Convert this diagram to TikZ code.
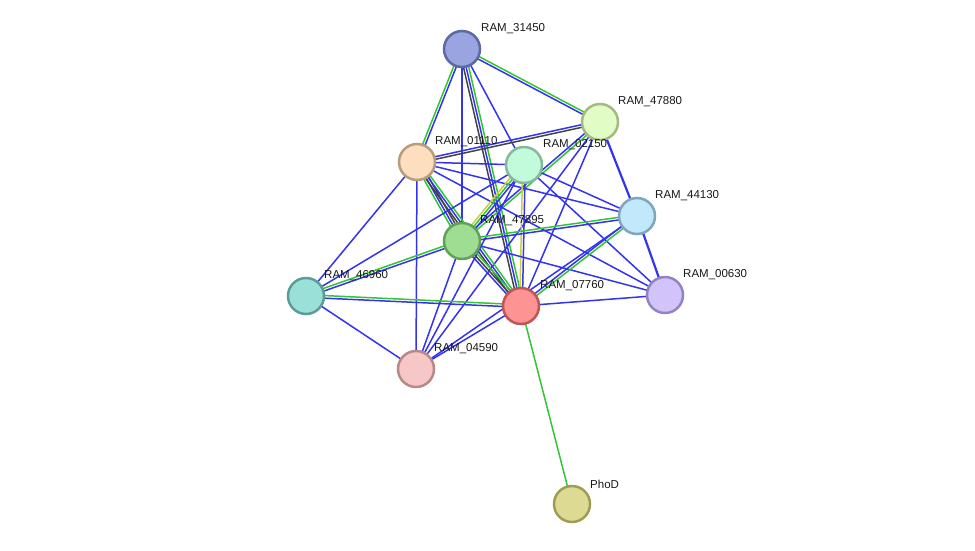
\documentclass[tikz,border=0pt]{standalone}
\usepackage{fontspec}
\setmainfont{Liberation Sans}
\usetikzlibrary{calc,backgrounds}
\definecolor{eblue}{HTML}{3333F0}
\definecolor{egreen}{HTML}{33C633}
\definecolor{eblack}{HTML}{444444}
\definecolor{eyellow}{HTML}{C8D03C}
\tikzset{
  prot/.style={circle, minimum size=36pt, inner sep=0pt, line width=2.5pt},
  lab/.style={anchor=west, inner sep=0pt, font=\fontsize{11.5}{13}\selectfont, text=black!90},
  edge/.style={line width=1.5pt},
}
\newcommand\edg[4]{\draw[edge,#4] ($(#1.center)!#3!90:(#2.center)$) -- ($(#2.center)!#3!-90:(#1.center)$);}
\begin{document}
\begin{tikzpicture}[x=1pt,y=-1pt]
\useasboundingbox (0,0) rectangle (975,550);
% nodes
\node[prot, fill={rgb,255:red,153;green,164;blue,224}, draw={rgb,255:red,93;green,105;blue,163}] (n31450) at (462,49) {};
\node[prot, fill={rgb,255:red,225;green,252;blue,196}, draw={rgb,255:red,163;green,186;blue,130}] (n47880) at (600,122) {};
\node[prot, fill={rgb,255:red,253;green,223;blue,192}, draw={rgb,255:red,184;green,156;blue,124}] (n01110) at (417,162) {};
\node[prot, fill={rgb,255:red,194;green,251;blue,220}, draw={rgb,255:red,134;green,184;blue,156}] (n02150) at (524,165) {};
\node[prot, fill={rgb,255:red,194;green,232;blue,252}, draw={rgb,255:red,129;green,165;blue,189}] (n44130) at (637,216) {};
\node[prot, fill={rgb,255:red,159;green,221;blue,147}, draw={rgb,255:red,98;green,161;blue,87}] (n47895) at (462,241) {};
\node[prot, fill={rgb,255:red,154;green,224;blue,216}, draw={rgb,255:red,90;green,158;blue,152}] (n46960) at (306,296) {};
\node[prot, fill={rgb,255:red,253;green,147;blue,147}, draw={rgb,255:red,192;green,85;blue,85}] (n07760) at (521,306) {};
\node[prot, fill={rgb,255:red,210;green,196;blue,251}, draw={rgb,255:red,148;green,131;blue,195}] (n00630) at (665,295) {};
\node[prot, fill={rgb,255:red,247;green,199;blue,199}, draw={rgb,255:red,185;green,137;blue,137}] (n04590) at (416,369) {};
\node[prot, fill={rgb,255:red,221;green,218;blue,148}, draw={rgb,255:red,159;green,156;blue,85}] (nPhoD) at (572,504) {};
% labels
\node[lab] (l31450) at ($(n31450.center)+(19,-20)$) {RAM\_31450};
\node[lab] (l47880) at ($(n47880.center)+(18,-20)$) {RAM\_47880};
\node[lab] (l01110) at ($(n01110.center)+(18,-20)$) {RAM\_01110};
\node[lab] (l02150) at ($(n02150.center)+(19,-20)$) {RAM\_02150};
\node[lab] (l44130) at ($(n44130.center)+(18,-20)$) {RAM\_44130};
\node[lab] (l47895) at ($(n47895.center)+(18,-20)$) {RAM\_47895};
\node[lab] (l46960) at ($(n46960.center)+(18,-20)$) {RAM\_46960};
\node[lab] (l07760) at ($(n07760.center)+(19,-20)$) {RAM\_07760};
\node[lab] (l00630) at ($(n00630.center)+(18,-20)$) {RAM\_00630};
\node[lab] (l04590) at ($(n04590.center)+(18,-20)$) {RAM\_04590};
\node[lab] (lPhoD) at ($(nPhoD.center)+(18,-20)$) {PhoD};
% edges
\begin{pgfonlayer}{background}
\fill[white] (0,0) rectangle (975,550);
\edg{n31450}{n47880}{-1.3pt}{eblue}\edg{n31450}{n47880}{1.3pt}{egreen}
\edg{n31450}{n01110}{-1.3pt}{egreen}\edg{n31450}{n01110}{1.3pt}{eblue}
\edg{n31450}{n47895}{0pt}{eblue}
\edg{n31450}{n07760}{2.6pt}{egreen}\edg{n31450}{n07760}{0pt}{eblue}\edg{n31450}{n07760}{-2.6pt}{eblack}
\edg{n31450}{n02150}{0pt}{eblue}
\edg{n47880}{n01110}{-1.3pt}{eblue}\edg{n47880}{n01110}{1.3pt}{eblack}
\edg{n47880}{n44130}{0pt}{eblue,line width=2.2pt}
\edg{n44130}{n00630}{0pt}{eblue,line width=2.2pt}
\edg{n47880}{n47895}{-1.3pt}{eblue}\edg{n47880}{n47895}{1.3pt}{egreen}
\edg{n47880}{n07760}{0pt}{eblue}
\edg{n47880}{n04590}{0pt}{eblue}
\edg{n01110}{n02150}{0pt}{eblue}
\edg{n01110}{n44130}{0pt}{eblue}
\edg{n01110}{n00630}{0pt}{eblue}
\edg{n01110}{n47895}{-2.6pt}{egreen}\edg{n01110}{n47895}{0pt}{eblue}\edg{n01110}{n47895}{2.6pt}{eblack}
\edg{n01110}{n07760}{-2.6pt}{eblack}\edg{n01110}{n07760}{0pt}{eblue}\edg{n01110}{n07760}{2.6pt}{egreen}
\edg{n01110}{n46960}{0pt}{eblue}
\edg{n01110}{n04590}{0pt}{eblue}
\edg{n02150}{n47895}{-2.6pt}{eyellow}\edg{n02150}{n47895}{0pt}{egreen}\edg{n02150}{n47895}{2.6pt}{eblue}
\edg{n02150}{n07760}{-1.3pt}{eyellow}\edg{n02150}{n07760}{1.3pt}{eblue}
\edg{n02150}{n46960}{0pt}{eblue}
\edg{n02150}{n04590}{0pt}{eblue}
\edg{n02150}{n44130}{0pt}{eblue}
\edg{n02150}{n00630}{0pt}{eblue}
\edg{n47895}{n44130}{-1.3pt}{eblue}\edg{n47895}{n44130}{1.3pt}{egreen}
\edg{n47895}{n46960}{-1.3pt}{egreen}\edg{n47895}{n46960}{1.3pt}{eblue}
\edg{n47895}{n07760}{-2.6pt}{eblue}\edg{n47895}{n07760}{0pt}{eblack}\edg{n47895}{n07760}{2.6pt}{egreen}
\edg{n47895}{n00630}{0pt}{eblue}
\edg{n47895}{n04590}{0pt}{eblue}
\edg{n46960}{n07760}{-1.3pt}{eblue}\edg{n46960}{n07760}{1.3pt}{egreen}
\edg{n46960}{n04590}{0pt}{eblue}
\edg{n07760}{n44130}{-1.3pt}{egreen}\edg{n07760}{n44130}{1.3pt}{eblue}
\edg{n07760}{n00630}{0pt}{eblue}
\edg{n07760}{n04590}{0pt}{eblue}
\edg{n04590}{n44130}{0pt}{eblue}
\edg{n07760}{nPhoD}{0pt}{egreen}
\end{pgfonlayer}
\end{tikzpicture}
\end{document}
